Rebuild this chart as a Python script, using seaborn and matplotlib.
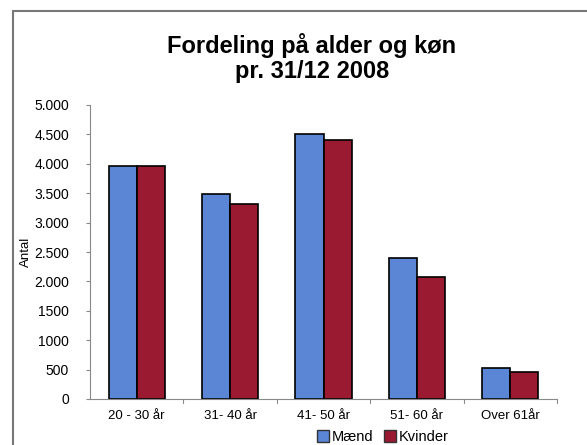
import matplotlib
matplotlib.use("Agg")
import matplotlib.pyplot as plt
import seaborn as sns
import pandas as pd
from matplotlib.lines import Line2D

categories = ["20 - 30 år", "31- 40 år", "41- 50 år", "51- 60 år", "Over 61år"]
maend = [3960, 3480, 4500, 2400, 530]
kvinder = [3960, 3310, 4400, 2070, 460]
series_names = ["Mænd", "Kvinder"]
ytick_values = [0, 500, 1000, 1500, 2000, 2500, 3000, 3500, 4000, 4500, 5000]
ytick_labels = ["0", "500", "1000", "1500", "2.000", "2.500", "3.000", "3.500", "4.000", "4.500", "5.000"]
title = "Fordeling på alder og køn\npr. 31/12 2008"
ylabel = "Antal"

sns.set_style("white")
plt.rcParams['font.family'] = ['Liberation Sans', 'DejaVu Sans']
plt.rcParams['text.color'] = 'black'
plt.rcParams['axes.labelcolor'] = 'black'
plt.rcParams['xtick.labelcolor'] = 'black'
plt.rcParams['ytick.labelcolor'] = 'black'

df = pd.DataFrame({
    "Alder": categories * 2,
    "Antal": maend + kvinder,
    "Køn": [series_names[0]] * len(categories) + [series_names[1]] * len(categories),
})

colors = ["#5B86D6", "#9A1A32"]

fig = plt.figure(figsize=(5.87, 4.45), dpi=100)
ax = fig.add_axes([90/587, 1 - 399/445, (557 - 90)/587, (399 - 105)/445])

sns.barplot(data=df, x="Alder", y="Antal", hue="Køn", palette=colors, ax=ax,
            width=0.6, gap=0, edgecolor="black", linewidth=1.2, legend=False,
            saturation=1)

ax.set_ylim(0, 5000)
ax.set_xlim(-0.5, 4.5)
ax.set_yticks(ytick_values)
ax.set_yticklabels(ytick_labels, fontsize=10)
ax.set_xticks(range(len(categories)))
ax.set_xticklabels(categories, fontsize=9.5)
ax.tick_params(axis="x", length=0, pad=8)
ax.tick_params(axis="y", length=3, width=0.8, color="#888888", left=True, pad=12)
for b in [0.5, 1.5, 2.5, 3.5, 4.5]:
    ax.axvline(b, ymin=-0.012, ymax=0, color="#888888", lw=0.8, clip_on=False)
ax.set_xlabel("")
ax.set_ylabel(ylabel, fontsize=9.5, labelpad=2)
for s in ["top", "right"]:
    ax.spines[s].set_visible(False)
for s in ["left", "bottom"]:
    ax.spines[s].set_color("#888888")
    ax.spines[s].set_linewidth(0.8)

fig.text(312/587, 1 - 58/445, title, ha="center", va="center", fontsize=17,
         fontweight="bold", linespacing=1.15)

handles = [Line2D([0], [0], marker="s", linestyle="none", markersize=8,
                  markerfacecolor=c, markeredgecolor="#333333") for c in colors]
fig.legend(handles, series_names, loc="center", bbox_to_anchor=(382/587, 1 - 437/445),
           ncol=2, frameon=False, fontsize=10.5, handletextpad=0.1, columnspacing=0.6,
           handlelength=1.0)

# outer frame (left and top lines)
fig.add_artist(Line2D([13/587, 13/587], [0, 1 - 11/445], color="#777777", lw=1.5))
fig.add_artist(Line2D([13/587, 1], [1 - 11/445, 1 - 11/445], color="#777777", lw=1.5))

fig.savefig("out.png", dpi=100)
